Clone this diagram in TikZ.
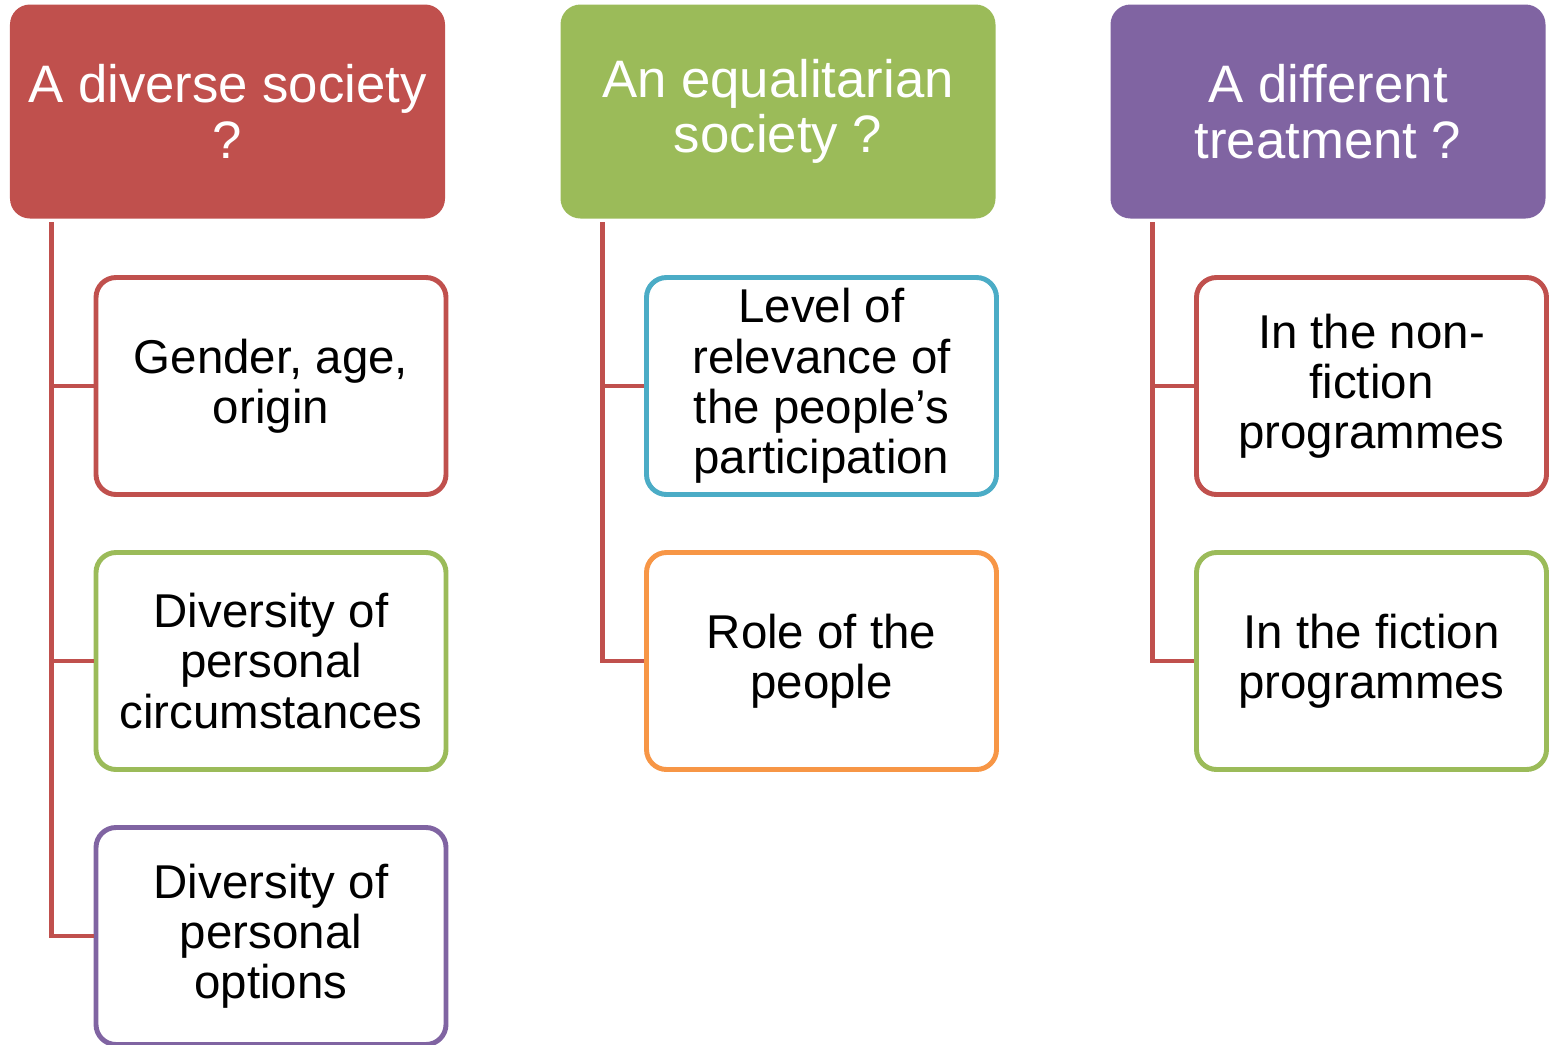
\documentclass[tikz,border=0pt]{standalone}
\usepackage{fontspec}
\setmainfont{Liberation Sans}
\usetikzlibrary{calc}
\definecolor{cred}{HTML}{C0504D}
\definecolor{cgreen}{HTML}{9BBB59}
\definecolor{cpurple}{HTML}{8064A2}
\definecolor{cblue}{HTML}{4BACC6}
\definecolor{corange}{HTML}{F79646}
\tikzset{
	head/.style={fill=#1, rounded corners=0.2cm, minimum width=4.35cm, minimum height=2.14cm, inner sep=0pt, align=center, text=white, font=\fontsize{15}{15.8}\selectfont},
	item/.style={draw=#1, fill=white, line width=1.4pt, rounded corners=0.2cm, minimum width=3.5cm, minimum height=2.17cm, inner sep=0pt, align=center, font=\fontsize{13.5}{14.3}\selectfont},
	link/.style={draw=cred, line width=1.4pt}
}

\begin{document}
\begin{tikzpicture}
		%%%%% START %%%%%
		\useasboundingbox (0, 0) rectangle (15.5, -10.45);
		
		\node[head=cred] (h1) at (2.275, -1.115) {A diverse society\\?};
		\node[head=cgreen] (h2) at (7.78, -1.115) {An equalitarian\\society ?};
		\node[head=cpurple] (h3) at (13.28, -1.115) {A different\\treatment ?};
		
		\node[item=cred] (c11) at (2.71, -3.86) {Gender, age,\\origin};
		\node[item=cgreen] (c12) at (2.71, -6.61) {Diversity of\\personal\\circumstances};
		\node[item=cpurple] (c13) at (2.71, -9.36) {Diversity of\\personal\\options};
		
		\node[item=cblue] (c21) at (8.215, -3.86) {Level of\\relevance of\\the people’s\\participation};
		\node[item=corange] (c22) at (8.215, -6.61) {Role of the\\people};
		
		\node[item=cred] (c31) at (13.715, -3.86) {In the non-\\fiction\\programmes};
		\node[item=cgreen] (c32) at (13.715, -6.61) {In the fiction\\programmes};
		
		\draw[link] ([xshift=0.42cm, yshift=-0.03cm]h1.south west) |- (c11.west);
		\draw[link] ([xshift=0.42cm, yshift=-0.03cm]h1.south west) |- (c12.west);
		\draw[link] ([xshift=0.42cm, yshift=-0.03cm]h1.south west) |- (c13.west);
		
		\draw[link] ([xshift=0.43cm, yshift=-0.03cm]h2.south west) |- (c21.west);
		\draw[link] ([xshift=0.43cm, yshift=-0.03cm]h2.south west) |- (c22.west);
		
		\draw[link] ([xshift=0.43cm, yshift=-0.03cm]h3.south west) |- (c31.west);
		\draw[link] ([xshift=0.43cm, yshift=-0.03cm]h3.south west) |- (c32.west);
		
		%%%%% END %%%%%
	\end{tikzpicture}
\end{document}
